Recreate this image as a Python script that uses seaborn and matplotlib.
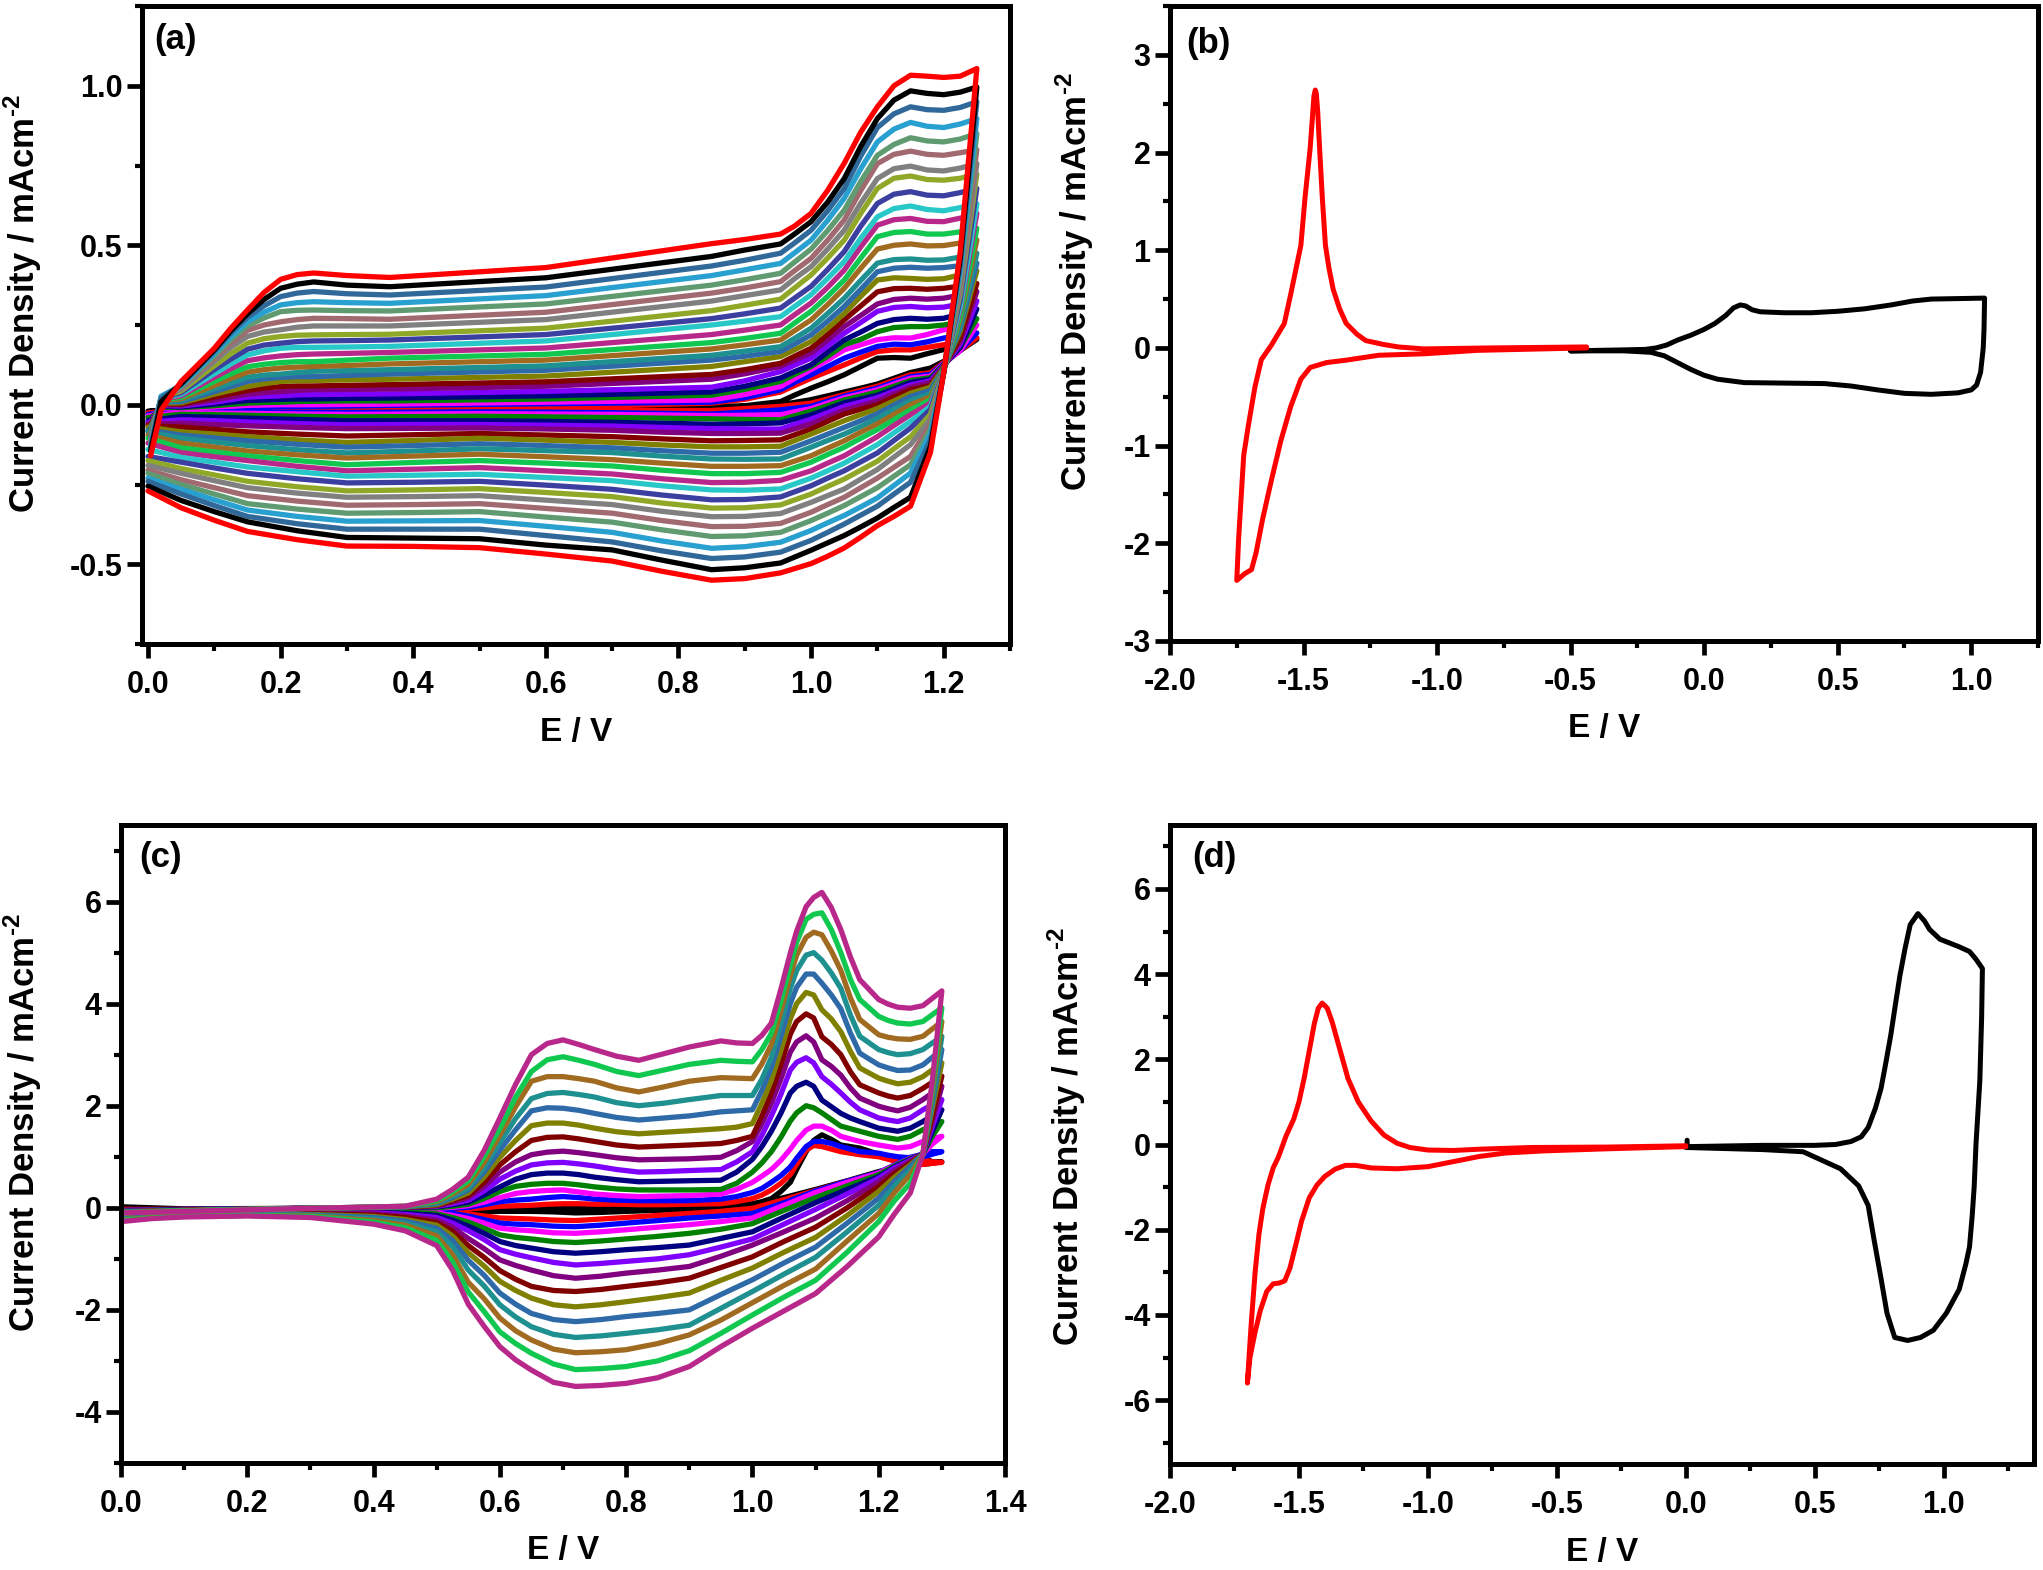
import matplotlib
matplotlib.use("Agg")
import matplotlib.pyplot as plt
import pandas as pd
import seaborn as sns
from matplotlib.ticker import MultipleLocator

W, H = 2043, 1570

cycle_colors = ["#000000", "#ff0000", "#0000ff", "#ff00ff", "#008000", "#000080", "#8000ff", "#800080",
                "#800000", "#808000", "#2f6aa8", "#1f9090", "#a06a20", "#10c850", "#b8288a", "#28c8c8",
                "#3a3fa0", "#90a828", "#808080", "#a06a70", "#609a70", "#28a0d0", "#30689a", "#000000", "#ff0000"]

# panel (a), anodic sweep: one list per potential, cycle 1 to cycle 25
a_up_e = [0.004, 0.02, 0.05, 0.10, 0.125, 0.15, 0.175, 0.20, 0.225, 0.25, 0.30, 0.365, 0.60, 0.85, 0.90, 0.954, 0.975, 1.00, 1.025, 1.05, 1.075, 1.10, 1.125, 1.15, 1.175, 1.20, 1.225, 1.25]
a_up_004 = [-.02, -.03, -.035, -.04, -.045, -.05, -.055, -.06, -.065, -.07, -.075, -.08, -.085, -.09, -.095, -.1, -.105, -.11, -.115, -.12, -.125, -.13, -.135, -.145, -.16]
a_up_020 = [-.016, -.015, -.012, -.01, -.007, -.004, -.002, 0, .003, .005, .008, .01, .013, .015, .017, .019, .02, .022, .024, .025, .026, .027, .02, .01, -.016]
a_up_050 = [-.017, -.015, -.013, -.011, -.009, -.007, -.004, -.001, .002, .006, .01, .014, .019, .023, .028, .033, .038, .043, .048, .052, .056, .06, .063, .066, .073]
a_up_100 = [-.017, -.014, -.01, -.007, -.003, .002, .008, .015, .024, .033, .041, .05, .06, .073, .086, .097, .11, .122, .136, .146, .153, .16, .167, .172, .177]
a_up_125 = [-.016, -.013, -.009, -.005, .001, .008, .016, .024, .034, .045, .057, .068, .082, .097, .113, .128, .143, .16, .18, .193, .204, .213, .225, .232, .24]
a_up_150 = [-.016, -.013, -.007, -.002, .005, .013, .024, .033, .045, .057, .073, .086, .102, .119, .138, .156, .174, .193, .214, .233, .247, .26, .274, .285, .297]
a_up_175 = [-.016, -.013, -.006, -.001, .007, .015, .026, .038, .052, .066, .081, .093, .11, .127, .147, .169, .187, .207, .228, .25, .272, .29, .31, .33, .352]
a_up_200 = [-.016, -.013, -.005, 0, .008, .017, .028, .041, .057, .073, .086, .096, .115, .132, .153, .177, .193, .214, .235, .26, .292, .313, .339, .365, .393]
a_up_225 = [-.016, -.012, -.005, 0, .01, .018, .031, .045, .059, .075, .088, .101, .118, .135, .157, .18, .198, .218, .243, .267, .296, .32, .35, .378, .408]
a_up_250 = [-.016, -.012, -.005, 0, .011, .018, .032, .047, .059, .076, .088, .105, .12, .135, .159, .18, .2, .219, .247, .271, .297, .323, .355, .385, .413]
a_up_300 = [-.016, -.012, -.004, .001, .012, .02, .033, .048, .061, .078, .092, .107, .123, .14, .161, .181, .201, .22, .247, .27, .295, .32, .348, .375, .405]
a_up_365 = [-.016, -.012, -.002, .002, .012, .021, .034, .049, .063, .08, .096, .11, .128, .146, .164, .183, .203, .221, .247, .268, .294, .318, .344, .37, .399]
a_up_600 = [-.012, -.008, .003, .008, .018, .028, .042, .058, .072, .09, .108, .122, .14, .158, .178, .2, .22, .24, .267, .29, .316, .342, .369, .398, .43]
a_up_850 = [-.006, .005, .008, .015, .03, .04, .055, .08, .095, .12, .14, .155, .175, .195, .22, .25, .27, .295, .325, .35, .375, .405, .435, .465, .505]
a_up_900 = [-.003, .017, .022, .032, .048, .058, .075, .097, .11, .135, .152, .168, .188, .208, .234, .262, .285, .312, .342, .366, .392, .423, .453, .485, .518]
a_up_954 = [.01, .04, .047, .057, .073, .084, .104, .12, .13, .151, .167, .182, .203, .224, .25, .276, .303, .331, .36, .386, .412, .443, .475, .504, .535]
a_up_975 = [.03, .06, .07, .082, .095, .104, .124, .14, .152, .172, .19, .208, .232, .256, .282, .308, .334, .366, .395, .42, .447, .476, .507, .535, .56]
a_up_1000 = [.052, .083, .094, .11, .12, .125, .146, .162, .177, .198, .219, .24, .266, .293, .319, .345, .371, .407, .433, .459, .488, .516, .547, .574, .6]
a_up_1025 = [.072, .104, .12, .14, .152, .165, .185, .203, .22, .24, .262, .286, .314, .34, .368, .396, .424, .46, .488, .516, .546, .578, .608, .635, .672]
a_up_1050 = [.094, .125, .146, .172, .188, .203, .224, .245, .266, .286, .308, .334, .365, .391, .422, .449, .48, .516, .547, .579, .61, .647, .678, .709, .757]
a_up_1075 = [.12, .147, .165, .188, .205, .228, .258, .28, .31, .34, .362, .39, .428, .46, .495, .522, .56, .6, .632, .672, .7, .74, .78, .81, .855]
a_up_1100 = [.146, .167, .183, .204, .229, .255, .293, .316, .354, .391, .417, .444, .488, .527, .563, .589, .631, .678, .709, .756, .782, .824, .869, .897, .934]
a_up_1125 = [.148, .172, .19, .21, .242, .267, .305, .33, .364, .398, .428, .455, .5, .54, .58, .615, .66, .71, .74, .785, .816, .864, .912, .955, 1.0]
a_up_1150 = [.146, .172, .188, .209, .245, .271, .308, .334, .365, .396, .431, .457, .504, .543, .584, .623, .668, .717, .748, .795, .837, .885, .934, .984, 1.033]
a_up_1175 = [.16, .18, .197, .22, .245, .268, .304, .331, .362, .393, .428, .453, .498, .535, .575, .612, .657, .706, .736, .785, .827, .873, .925, .976, 1.03]
a_up_1200 = [.173, .188, .209, .235, .25, .271, .306, .334, .365, .395, .43, .454, .499, .535, .574, .608, .655, .704, .733, .782, .824, .869, .923, .972, 1.026]
a_up_1225 = [.19, .198, .217, .24, .26, .285, .316, .344, .372, .407, .436, .463, .507, .542, .585, .618, .665, .71, .742, .79, .833, .88, .932, .98, 1.03]
a_up_1250 = [.205, .21, .225, .25, .27, .3, .325, .355, .38, .42, .444, .475, .517, .553, .6, .63, .678, .723, .756, .8, .85, .897, .95, .996, 1.054]
a_up = [a_up_004, a_up_020, a_up_050, a_up_100, a_up_125, a_up_150, a_up_175, a_up_200, a_up_225, a_up_250, a_up_300, a_up_365, a_up_600, a_up_850,
        a_up_900, a_up_954, a_up_975, a_up_1000, a_up_1025, a_up_1050, a_up_1075, a_up_1100, a_up_1125, a_up_1150, a_up_1175, a_up_1200, a_up_1225, a_up_1250]

# panel (a), cathodic sweep
a_dn_e = [1.225, 1.20, 1.18, 1.15, 1.125, 1.10, 1.075, 1.05, 1.025, 1.00, 0.954, 0.90, 0.85, 0.775, 0.70, 0.60, 0.50, 0.40, 0.30, 0.225, 0.15, 0.10, 0.05, 0.0]
a_dn_1225 = [.17, .17, .17, .17, .18, .18, .19, .2, .21, .23, .24, .25, .27, .28, .3, .31, .33, .35, .36, .38, .4, .42, .44, .46, .48]
a_dn_1200 = [.136, .133, .13, .128, .126, .124, .122, .12, .118, .116, .114, .112, .11, .108, .107, .106, .105, .104, .103, .102, .102, .101, .1, .1, .1]
a_dn_1180 = [.115, .1, .095, .09, .085, .08, .075, .07, .06, .055, .045, .035, .025, .015, .005, -.005, -.015, -.03, -.045, -.06, -.075, -.09, -.11, -.13, -.15]
a_dn_1150 = [.101, .094, .088, .083, .076, .07, .062, .055, .047, .036, .026, .013, 0, -.016, -.031, -.052, -.073, -.1, -.125, -.162, -.188, -.214, -.243, -.29, -.318]
a_dn_1125 = [.083, .076, .07, .065, .058, .05, .042, .034, .024, .012, -.001, -.015, -.03, -.047, -.065, -.088, -.112, -.138, -.164, -.196, -.224, -.253, -.28, -.322, -.35]
a_dn_1100 = [.065, .058, .052, .047, .04, .03, .022, .012, 0, -.012, -.028, -.043, -.06, -.078, -.1, -.125, -.151, -.177, -.203, -.23, -.26, -.292, -.318, -.355, -.379]
a_dn_1075 = [.052, .045, .039, .034, .027, .018, .008, -.003, -.014, -.031, -.05, -.068, -.086, -.105, -.13, -.154, -.179, -.205, -.233, -.26, -.288, -.32, -.346, -.383, -.415]
a_dn_1050 = [.04, .032, .027, .022, .015, .006, -.005, -.017, -.029, -.05, -.071, -.092, -.113, -.133, -.16, -.183, -.207, -.233, -.264, -.29, -.316, -.347, -.374, -.41, -.449]
a_dn_1025 = [.028, .018, .011, .005, -.003, -.013, -.025, -.038, -.052, -.071, -.092, -.112, -.136, -.156, -.183, -.207, -.23, -.256, -.285, -.313, -.34, -.37, -.4, -.433, -.475]
a_dn_1000 = [.016, .005, -.005, -.012, -.02, -.032, -.045, -.06, -.076, -.092, -.113, -.133, -.16, -.18, -.207, -.23, -.254, -.28, -.306, -.337, -.363, -.394, -.425, -.456, -.498]
a_dn_954 = [0, -.005, -.016, -.031, -.047, -.057, -.076, -.089, -.11, -.13, -.149, -.17, -.191, -.212, -.237, -.264, -.289, -.314, -.341, -.372, -.4, -.431, -.462, -.496, -.527]
a_dn_900 = [-.005, -.012, -.023, -.033, -.046, -.06, -.076, -.09, -.112, -.132, -.152, -.171, -.193, -.216, -.243, -.268, -.297, -.323, -.35, -.381, -.411, -.445, -.477, -.511, -.545]
a_dn_850 = [-.01, -.018, -.029, -.034, -.044, -.061, -.075, -.09, -.113, -.132, -.152, -.17, -.193, -.216, -.244, -.267, -.298, -.324, -.351, -.382, -.413, -.45, -.482, -.517, -.55]
a_dn_775 = [-.011, -.018, -.027, -.032, -.042, -.058, -.071, -.086, -.107, -.126, -.144, -.161, -.183, -.205, -.232, -.254, -.283, -.308, -.334, -.363, -.392, -.427, -.458, -.487, -.522]
a_dn_700 = [-.012, -.018, -.025, -.03, -.04, -.055, -.067, -.08, -.1, -.118, -.135, -.15, -.172, -.192, -.217, -.238, -.265, -.288, -.313, -.34, -.368, -.4, -.43, -.455, -.49]
a_dn_600 = [-.014, -.019, -.023, -.029, -.038, -.052, -.064, -.076, -.095, -.111, -.128, -.144, -.163, -.183, -.207, -.228, -.252, -.275, -.299, -.325, -.352, -.381, -.41, -.44, -.468]
a_dn_500 = [-.015, -.02, -.022, -.028, -.036, -.05, -.062, -.073, -.09, -.105, -.122, -.138, -.155, -.175, -.197, -.218, -.24, -.263, -.285, -.31, -.335, -.363, -.39, -.42, -.448]
a_dn_400 = [-.016, -.02, -.023, -.029, -.037, -.05, -.062, -.074, -.094, -.112, -.128, -.145, -.161, -.181, -.202, -.221, -.243, -.267, -.288, -.313, -.338, -.364, -.39, -.418, -.444]
a_dn_300 = [-.017, -.02, -.024, -.03, -.038, -.05, -.063, -.075, -.098, -.118, -.133, -.151, -.167, -.188, -.207, -.224, -.245, -.27, -.29, -.315, -.34, -.365, -.39, -.416, -.443]
a_dn_225 = [-.017, -.019, -.023, -.029, -.036, -.046, -.059, -.071, -.092, -.11, -.124, -.141, -.157, -.175, -.193, -.21, -.232, -.257, -.277, -.302, -.327, -.35, -.373, -.395, -.423]
a_dn_150 = [-.017, -.018, -.022, -.027, -.033, -.042, -.054, -.066, -.085, -.1, -.113, -.128, -.145, -.16, -.175, -.195, -.215, -.24, -.26, -.285, -.31, -.33, -.35, -.367, -.397]
a_dn_100 = [-.017, -.018, -.021, -.026, -.031, -.039, -.05, -.062, -.077, -.092, -.104, -.117, -.133, -.148, -.163, -.18, -.198, -.22, -.238, -.26, -.28, -.298, -.316, -.335, -.362]
a_dn_050 = [-.017, -.018, -.021, -.025, -.03, -.037, -.047, -.058, -.07, -.085, -.095, -.105, -.12, -.135, -.15, -.165, -.18, -.2, -.215, -.235, -.25, -.265, -.28, -.3, -.323]
a_dn_000 = [-.02, -.025, -.03, -.035, -.04, -.05, -.055, -.06, -.065, -.07, -.08, -.085, -.095, -.105, -.12, -.14, -.162, -.175, -.19, -.205, -.215, -.23, -.24, -.255, -.27]
a_dn = [a_dn_1225, a_dn_1200, a_dn_1180, a_dn_1150, a_dn_1125, a_dn_1100, a_dn_1075, a_dn_1050, a_dn_1025, a_dn_1000, a_dn_954, a_dn_900, a_dn_850,
        a_dn_775, a_dn_700, a_dn_600, a_dn_500, a_dn_400, a_dn_300, a_dn_225, a_dn_150, a_dn_100, a_dn_050, a_dn_000]

# panel (c), anodic sweep: cycle 1 to cycle 15
c_up_e = [0.0, 0.10, 0.30, 0.45, 0.50, 0.525, 0.55, 0.575, 0.60, 0.625, 0.65, 0.675, 0.70, 0.725, 0.75, 0.785, 0.82, 0.86, 0.90, 0.95, 0.975, 1.00, 1.015, 1.03, 1.045, 1.06, 1.07, 1.085, 1.097, 1.11, 1.125, 1.14, 1.155, 1.17, 1.20, 1.215, 1.23, 1.25, 1.27, 1.30]
c_up_000 = [.02, -.03, -.05, -.06, -.06, -.07, -.07, -.08, -.08, -.08, -.09, -.09, -.1, -.1, -.1]
c_up_010 = [-.02, -.03, -.03, -.04, -.04, -.04, -.05, -.05, -.05, -.05, -.06, -.06, -.06, -.06, -.07]
c_up_030 = [-.01, -.01, -.01, -.01, -.01, -.01, -.01, -.01, -.01, -.01, -.01, -.01, -.01, -.01, -.01]
c_up_045 = [-.03, -.02, -.01, 0, 0, .01, .01, .01, .01, .02, .02, .02, .03, .03, .03]
c_up_050 = [-.04, -.03, -.02, -.01, 0, .02, .03, .04, .05, .06, .08, .1, .12, .14, .17]
c_up_0525 = [-.05, -.03, -.01, .01, .03, .06, .08, .11, .14, .17, .2, .23, .27, .31, .36]
c_up_055 = [-.05, -.02, .01, .04, .07, .11, .15, .2, .24, .29, .35, .39, .46, .53, .6]
c_up_0575 = [-.04, 0, .06, .11, .18, .25, .33, .42, .5, .6, .7, .79, .89, 1.0, 1.12]
c_up_060 = [-.03, .03, .12, .2, .32, .41, .56, .7, .84, .99, 1.13, 1.28, 1.42, 1.56, 1.76]
c_up_0625 = [-.02, .04, .15, .28, .42, .56, .72, .9, 1.1, 1.32, 1.53, 1.75, 1.98, 2.17, 2.42]
c_up_065 = [-.02, .05, .17, .32, .46, .65, .84, 1.04, 1.32, 1.61, 1.9, 2.14, 2.48, 2.67, 3.0]
c_up_0675 = [-.01, .07, .2, .34, .48, .68, .88, 1.09, 1.38, 1.66, 1.96, 2.24, 2.57, 2.9, 3.22]
c_up_070 = [-.01, .08, .22, .35, .48, .68, .89, 1.11, 1.39, 1.66, 1.95, 2.26, 2.57, 2.96, 3.29]
c_up_0725 = [0, .08, .2, .31, .45, .65, .86, 1.08, 1.35, 1.62, 1.91, 2.22, 2.53, 2.89, 3.2]
c_up_075 = [0, .07, .17, .27, .41, .6, .82, 1.04, 1.3, 1.56, 1.85, 2.17, 2.48, 2.81, 3.1]
c_up_0785 = [0, .07, .15, .24, .37, .55, .75, .98, 1.23, 1.49, 1.77, 2.06, 2.35, 2.67, 2.97]
c_up_082 = [0, .06, .14, .22, .35, .51, .7, .94, 1.19, 1.45, 1.72, 2.0, 2.27, 2.59, 2.89]
c_up_086 = [0, .06, .14, .23, .35, .52, .71, .95, 1.21, 1.48, 1.76, 2.05, 2.37, 2.7, 3.02]
c_up_090 = [.01, .07, .14, .24, .35, .53, .73, .96, 1.23, 1.51, 1.8, 2.12, 2.48, 2.81, 3.15]
c_up_095 = [.03, .08, .17, .27, .36, .54, .75, .99, 1.26, 1.55, 1.88, 2.2, 2.55, 2.89, 3.27]
c_up_0975 = [.05, .12, .22, .36, .48, .7, .9, 1.12, 1.32, 1.58, 1.9, 2.2, 2.54, 2.87, 3.23]
c_up_100 = [.08, .18, .3, .5, .7, .95, 1.1, 1.3, 1.4, 1.65, 1.92, 2.2, 2.53, 2.86, 3.22]
c_up_1015 = [.12, .25, .38, .62, .88, 1.2, 1.42, 1.65, 1.8, 2.05, 2.3, 2.52, 2.82, 3.1, 3.38]
c_up_103 = [.18, .35, .5, .75, 1.1, 1.5, 1.8, 2.05, 2.25, 2.5, 2.75, 2.95, 3.2, 3.42, 3.62]
c_up_1045 = [.32, .48, .63, .93, 1.38, 1.85, 2.22, 2.52, 2.8, 3.08, 3.35, 3.62, 3.85, 4.05, 4.28]
c_up_106 = [.5, .65, .8, 1.15, 1.7, 2.25, 2.7, 3.05, 3.4, 3.7, 4.0, 4.3, 4.55, 4.75, 4.99]
c_up_107 = [.75, .85, .97, 1.32, 1.86, 2.38, 2.85, 3.25, 3.65, 4.0, 4.32, 4.65, 4.95, 5.2, 5.42]
c_up_1085 = [1.1, 1.13, 1.2, 1.52, 2.0, 2.46, 2.94, 3.37, 3.8, 4.22, 4.58, 4.95, 5.3, 5.65, 5.9]
c_up_1097 = [1.32, 1.22, 1.3, 1.6, 1.96, 2.38, 2.84, 3.25, 3.72, 4.17, 4.58, 5.0, 5.4, 5.75, 6.08]
c_up_111 = [1.43, 1.2, 1.3, 1.6, 1.86, 2.11, 2.57, 2.9, 3.35, 3.88, 4.4, 4.85, 5.35, 5.78, 6.18]
c_up_1125 = [1.34, 1.15, 1.26, 1.52, 1.73, 1.98, 2.42, 2.77, 3.2, 3.7, 4.17, 4.6, 5.03, 5.45, 5.88]
c_up_114 = [1.23, 1.1, 1.2, 1.4, 1.6, 1.85, 2.25, 2.6, 3.0, 3.45, 3.9, 4.3, 4.65, 5.0, 5.45]
c_up_1155 = [1.2, 1.07, 1.15, 1.35, 1.55, 1.76, 2.07, 2.35, 2.67, 3.07, 3.43, 3.78, 4.12, 4.48, 4.92]
c_up_117 = [1.17, 1.04, 1.1, 1.3, 1.5, 1.69, 1.92, 2.15, 2.41, 2.74, 3.03, 3.36, 3.69, 4.08, 4.47]
c_up_120 = [1.05, 1.0, 1.07, 1.23, 1.4, 1.56, 1.76, 1.99, 2.25, 2.54, 2.8, 3.1, 3.39, 3.75, 4.08]
c_up_1215 = [1.0, .95, 1.03, 1.2, 1.37, 1.53, 1.72, 1.94, 2.19, 2.48, 2.74, 3.04, 3.34, 3.67, 3.99]
c_up_123 = [.95, .9, 1.0, 1.17, 1.34, 1.5, 1.69, 1.9, 2.15, 2.43, 2.69, 3.0, 3.31, 3.62, 3.93]
c_up_125 = [.9, .86, .98, 1.2, 1.4, 1.56, 1.76, 1.97, 2.2, 2.46, 2.7, 3.02, 3.3, 3.6, 3.91]
c_up_127 = [.85, .85, 1.0, 1.3, 1.53, 1.69, 1.92, 2.12, 2.34, 2.57, 2.8, 3.1, 3.36, 3.65, 3.96]
c_up_130 = [.9, .89, 1.1, 1.4, 1.69, 1.92, 2.12, 2.38, 2.58, 2.84, 3.1, 3.36, 3.65, 3.92, 4.25]
c_up = [c_up_000, c_up_010, c_up_030, c_up_045, c_up_050, c_up_0525, c_up_055, c_up_0575, c_up_060, c_up_0625, c_up_065, c_up_0675, c_up_070, c_up_0725,
        c_up_075, c_up_0785, c_up_082, c_up_086, c_up_090, c_up_095, c_up_0975, c_up_100, c_up_1015, c_up_103, c_up_1045, c_up_106, c_up_107, c_up_1085,
        c_up_1097, c_up_111, c_up_1125, c_up_114, c_up_1155, c_up_117, c_up_120, c_up_1215, c_up_123, c_up_125, c_up_127, c_up_130]

# panel (c), cathodic sweep
c_dn_e = [1.285, 1.27, 1.25, 1.225, 1.20, 1.15, 1.10, 1.05, 1.00, 0.95, 0.90, 0.85, 0.80, 0.76, 0.72, 0.685, 0.65, 0.625, 0.60, 0.575, 0.55, 0.525, 0.50, 0.45, 0.40, 0.30, 0.20, 0.10, 0.05, 0.0]
c_dn_1285 = [.9, .9, 1.1, 1.25, 1.4, 1.5, 1.6, 1.7, 1.8, 1.95, 2.05, 2.15, 2.3, 2.4, 2.5]
c_dn_127 = [1.0, .95, 1.05, 1.05, 1.05, 1.05, 1.05, 1.05, 1.05, 1.05, 1.05, 1.05, 1.05, 1.05, 1.05]
c_dn_125 = [.85, .85, .99, .97, .96, .95, .93, .91, .875, .84, .81, .74, .65, .48, .29]
c_dn_1225 = [.78, .76, .84, .83, .82, .8, .78, .73, .67, .6, .52, .43, .3, .14, -.12]
c_dn_120 = [.71, .69, .69, .68, .65, .61, .58, .51, .42, .32, .19, .05, -.11, -.27, -.57]
c_dn_115 = [.53, .52, .52, .5, .43, .36, .27, .14, 0, -.15, -.3, -.47, -.65, -.87, -1.15]
c_dn_110 = [.36, .34, .33, .3, .2, .1, -.03, -.2, -.38, -.58, -.77, -.97, -1.2, -1.42, -1.68]
c_dn_105 = [.2, .16, .1, .05, -.05, -.18, -.32, -.47, -.66, -.87, -1.08, -1.3, -1.52, -1.75, -2.02]
c_dn_100 = [.06, -.01, -.11, -.2, -.31, -.47, -.61, -.73, -.96, -1.18, -1.41, -1.64, -1.86, -2.1, -2.36]
c_dn_095 = [-.01, -.07, -.16, -.27, -.42, -.6, -.77, -.95, -1.17, -1.42, -1.7, -1.97, -2.2, -2.46, -2.72]
c_dn_090 = [-.03, -.11, -.2, -.33, -.5, -.73, -.92, -1.15, -1.38, -1.67, -2.0, -2.3, -2.49, -2.8, -3.11]
c_dn_085 = [-.05, -.15, -.25, -.38, -.56, -.78, -1.0, -1.22, -1.47, -1.76, -2.07, -2.39, -2.66, -3.0, -3.33]
c_dn_080 = [-.07, -.19, -.3, -.43, -.61, -.82, -1.05, -1.28, -1.54, -1.84, -2.13, -2.46, -2.78, -3.11, -3.44]
c_dn_076 = [-.09, -.22, -.34, -.47, -.65, -.86, -1.09, -1.34, -1.6, -1.9, -2.19, -2.51, -2.82, -3.15, -3.48]
c_dn_072 = [-.1, -.25, -.37, -.5, -.68, -.89, -1.12, -1.38, -1.64, -1.94, -2.23, -2.54, -2.84, -3.17, -3.5]
c_dn_0685 = [-.08, -.24, -.36, -.49, -.66, -.86, -1.07, -1.33, -1.62, -1.9, -2.19, -2.48, -2.77, -3.06, -3.42]
c_dn_065 = [-.07, -.22, -.33, -.45, -.61, -.79, -.98, -1.22, -1.54, -1.77, -2.07, -2.33, -2.59, -2.85, -3.18]
c_dn_0625 = [-.07, -.21, -.32, -.43, -.58, -.74, -.91, -1.13, -1.4, -1.62, -1.89, -2.14, -2.41, -2.66, -2.98]
c_dn_060 = [-.07, -.2, -.3, -.4, -.53, -.66, -.82, -1.02, -1.23, -1.44, -1.67, -1.9, -2.16, -2.43, -2.72]
c_dn_0575 = [-.08, -.16, -.23, -.3, -.4, -.5, -.62, -.8, -.97, -1.14, -1.32, -1.53, -1.78, -2.03, -2.32]
c_dn_055 = [-.09, -.12, -.16, -.21, -.28, -.36, -.45, -.6, -.74, -.88, -1.03, -1.22, -1.46, -1.65, -1.89]
c_dn_0525 = [-.06, -.08, -.11, -.15, -.19, -.24, -.3, -.38, -.46, -.55, -.64, -.76, -.92, -1.06, -1.22]
c_dn_050 = [-.05, -.06, -.08, -.1, -.12, -.15, -.19, -.24, -.29, -.34, -.4, -.47, -.55, -.64, -.74]
c_dn_045 = [-.04, -.05, -.06, -.08, -.09, -.11, -.13, -.16, -.19, -.23, -.26, -.3, -.34, -.39, -.45]
c_dn_040 = [-.04, -.05, -.06, -.07, -.08, -.09, -.1, -.12, -.14, -.17, -.19, -.22, -.25, -.28, -.32]
c_dn_030 = [-.06, -.07, -.08, -.08, -.09, -.09, -.1, -.11, -.12, -.13, -.14, -.15, -.16, -.17, -.19]
c_dn_020 = [-.08, -.09, -.1, -.1, -.11, -.11, -.12, -.12, -.13, -.13, -.14, -.14, -.15, -.15, -.16]
c_dn_010 = [-.08, -.09, -.1, -.1, -.11, -.11, -.12, -.13, -.14, -.14, -.15, -.16, -.16, -.17, -.18]
c_dn_005 = [-.08, -.09, -.1, -.1, -.11, -.12, -.13, -.14, -.15, -.16, -.17, -.18, -.19, -.2, -.21]
c_dn_000 = [-.07, -.08, -.09, -.1, -.11, -.12, -.14, -.16, -.18, -.2, -.22, -.23, -.24, -.25, -.27]
c_dn = [c_dn_1285, c_dn_127, c_dn_125, c_dn_1225, c_dn_120, c_dn_115, c_dn_110, c_dn_105, c_dn_100, c_dn_095, c_dn_090, c_dn_085, c_dn_080, c_dn_076, c_dn_072,
        c_dn_0685, c_dn_065, c_dn_0625, c_dn_060, c_dn_0575, c_dn_055, c_dn_0525, c_dn_050, c_dn_045, c_dn_040, c_dn_030, c_dn_020, c_dn_010, c_dn_005, c_dn_000]

# panel (b)
b_red_e = [-.44, -.8, -1.05, -1.145, -1.2, -1.267, -1.3, -1.34, -1.365, -1.389, -1.405, -1.418, -1.43, -1.44, -1.447, -1.452, -1.456, -1.461, -1.467, -1.475, -1.494, -1.51, -1.548, -1.572, -1.62, -1.658, -1.682, -1.707, -1.724, -1.743, -1.75,
           -1.72, -1.695, -1.678, -1.653, -1.62, -1.585, -1.548, -1.51, -1.475, -1.414, -1.34, -1.218, -1.047, -.85, -.44]
b_red_j = [.01, 0, -.01, .01, .035, .075, .14, .25, .4, .6, .82, 1.05, 1.55, 2.05, 2.42, 2.6, 2.64, 2.58, 2.35, 2.05, 1.55, 1.05, .55, .25, .03, -.12, -.4, -.8, -1.1, -1.95, -2.38,
           -2.31, -2.27, -2.1, -1.75, -1.35, -.95, -.6, -.32, -.2, -.15, -.125, -.075, -.06, -.025, 0]
b_blk_e = [-.5, -.3, -.22, -.18, -.14, -.1, -.05, 0, .04, .08, .11, .135, .155, .18, .21, .3, .4, .5, .6, .7, .78, .85, .95, 1.05, 1.048, 1.045, 1.035, 1.02, 1.0, .95, .85, .75, .65, .55, .45, .3, .15, .05, 0, -.05, -.1, -.15, -.2, -.3, -.5]
b_blk_j = [-.03, -.02, -.015, 0, .03, .08, .13, .19, .25, .33, .41, .44, .43, .39, .37, .36, .36, .375, .4, .44, .48, .5, .505, .51, .2, 0, -.25, -.38, -.43, -.46, -.475, -.465, -.43, -.39, -.365, -.36, -.355, -.32, -.28, -.22, -.15, -.08, -.045, -.03, -.03]

# panel (d)
d_red_e = [0, -.3, -.6, -.7, -.8, -.9, -1.0, -1.07, -1.12, -1.17, -1.22, -1.27, -1.31, -1.34, -1.37, -1.39, -1.41, -1.425, -1.44, -1.46, -1.48, -1.5, -1.52, -1.55, -1.58, -1.6, -1.62, -1.64, -1.655, -1.67, -1.685, -1.7,
           -1.69, -1.67, -1.65, -1.625, -1.6, -1.575, -1.555, -1.535, -1.51, -1.49, -1.46, -1.43, -1.4, -1.36, -1.32, -1.28, -1.22, -1.12, -1.0, -.9, -.8, -.7, -.55, -.3, 0]
d_red_j = [-.03, -.06, -.07, -.09, -.11, -.14, -.13, -.07, .03, .22, .55, 1.0, 1.55, 2.2, 2.85, 3.2, 3.32, 3.2, 2.85, 2.2, 1.55, 1.0, .6, .2, -.3, -.55, -.95, -1.5, -2.1, -3.0, -4.2, -5.6,
           -5.0, -4.4, -3.9, -3.45, -3.27, -3.25, -3.2, -2.9, -2.3, -1.8, -1.25, -.95, -.75, -.58, -.49, -.49, -.55, -.57, -.52, -.4, -.28, -.2, -.15, -.1, -.05]
d_blk_e = [.005, .005, .3, .5, .58, .64, .68, .707, .735, .757, .775, .795, .813, .83, .85, .87, .9, .925, .945, .985, 1.06, 1.1, 1.125, 1.15, 1.147, 1.14, 1.125, 1.118, 1.11, 1.1, 1.086, 1.06, 1.01, .96, .91, .86, .81, .78, .757, .73, .707, .67, .6, .455, .3, 0]
d_blk_j = [.1, -.05, -.02, -.02, 0, .07, .18, .4, .85, 1.32, 1.9, 2.58, 3.3, 3.96, 4.6, 5.16, 5.42, 5.25, 5.05, 4.82, 4.64, 4.53, 4.35, 4.13, 3.0, 1.5, 0, -1.0, -1.7, -2.4, -2.8, -3.4, -3.96, -4.36, -4.53, -4.6, -4.53, -3.96, -3.15, -2.24, -1.43, -.97, -.57, -.17, -.12, -.07]

sns.set_theme(style="ticks")
plt.rcParams["font.family"] = ["Liberation Sans", "DejaVu Sans"]
plt.rcParams["font.weight"] = "bold"
plt.rcParams["mathtext.fontset"] = "custom"
plt.rcParams["mathtext.bf"] = "Liberation Sans:bold"
plt.rcParams["mathtext.rm"] = "Liberation Sans:bold"
plt.rcParams["axes.edgecolor"] = "black"
plt.rcParams["text.color"] = "black"
plt.rcParams["xtick.color"] = "black"
plt.rcParams["ytick.color"] = "black"


def cycles_frame(up_e, up, dn_e, dn):
    rows = []
    for e, vals in zip(up_e, up):
        rows += [(f"c{i:02d}", e, v) for i, v in enumerate(vals)]
    for e, vals in zip(dn_e, dn):
        rows += [(f"c{i:02d}", e, v) for i, v in enumerate(vals)]
    return pd.DataFrame(rows, columns=["cycle", "E", "j"]).sort_values("cycle", kind="stable")


def two_curves(blk_e, blk_j, red_e, red_j):
    return pd.concat([pd.DataFrame({"cycle": "black", "E": blk_e, "j": blk_j}),
                      pd.DataFrame({"cycle": "red", "E": red_e, "j": red_j})])


def make_axes(fig, box, xlim, ylim, xmaj, ymaj, ytick_fmt="{:g}"):
    left, top, right, bottom = box
    ax = fig.add_axes([left / W, 1 - bottom / H, (right - left) / W, (bottom - top) / H])
    ax.set_xlim(xlim)
    ax.set_ylim(ylim)
    ax.xaxis.set_major_locator(MultipleLocator(xmaj))
    ax.xaxis.set_minor_locator(MultipleLocator(xmaj / 2))
    ax.yaxis.set_major_locator(MultipleLocator(ymaj))
    ax.yaxis.set_minor_locator(MultipleLocator(ymaj / 2))
    ax.tick_params(axis="x", which="major", length=10, width=3.4, labelsize=22, pad=9)
    ax.tick_params(axis="y", which="major", length=11, width=3.4, labelsize=22, pad=3)
    ax.tick_params(which="minor", length=5, width=3)
    for sp in ax.spines.values():
        sp.set_linewidth(3.6)
    ax.xaxis.set_major_formatter(lambda v, p: "{:.1f}".format(round(v, 6)))
    ax.yaxis.set_major_formatter(lambda v, p: ytick_fmt.format(round(v, 6)))
    return ax


fig = plt.figure(figsize=(W / 100, H / 100), dpi=100)

ax_a = make_axes(fig, (142, 6, 1010, 644), (-0.009, 1.30), (-0.75, 1.25), 0.2, 0.5, ytick_fmt="{:.1f}")
frame_a = cycles_frame(a_up_e, a_up, a_dn_e, a_dn)
pal_a = {f"c{i:02d}": c for i, c in enumerate(cycle_colors)}
sns.lineplot(data=frame_a, x="E", y="j", hue="cycle", hue_order=list(pal_a), palette=pal_a, sort=False,
             estimator=None, errorbar=None, legend=False, linewidth=3.8, ax=ax_a)

ax_b = make_axes(fig, (1170, 6, 2038, 641), (-2.0, 1.25), (-3, 3.5), 0.5, 1)
sns.lineplot(data=two_curves(b_blk_e, b_blk_j, b_red_e, b_red_j), x="E", y="j", hue="cycle",
             palette={"black": "#000000", "red": "#ff0000"}, sort=False, estimator=None, errorbar=None,
             legend=False, linewidth=3.6, ax=ax_b)

ax_c = make_axes(fig, (121, 825, 1005, 1463), (0, 1.4), (-5, 7.5), 0.2, 2)
frame_c = cycles_frame(c_up_e, c_up, c_dn_e, c_dn)
pal_c = {f"c{i:02d}": c for i, c in enumerate(cycle_colors[:15])}
sns.lineplot(data=frame_c, x="E", y="j", hue="cycle", hue_order=list(pal_c), palette=pal_c, sort=False,
             estimator=None, errorbar=None, legend=False, linewidth=3.8, ax=ax_c)

ax_d = make_axes(fig, (1170, 825, 2034, 1464), (-2.0, 1.35), (-7.5, 7.5), 0.5, 2)
sns.lineplot(data=two_curves(d_blk_e, d_blk_j, d_red_e, d_red_j), x="E", y="j", hue="cycle",
             palette={"black": "#000000", "red": "#ff0000"}, sort=False, estimator=None, errorbar=None,
             legend=False, linewidth=3.6, ax=ax_d)

for ax in (ax_a, ax_b, ax_c, ax_d):
    ax.set_xlabel("")
    ax.set_ylabel("")

for lab, x, y in [("(a)", 176, 40), ("(b)", 1208, 43), ("(c)", 161, 858), ("(d)", 1214, 857)]:
    fig.text(x / W, 1 - y / H, lab, fontsize=25, fontweight="bold", ha="center", va="center")

ylab = "Current Density / mAcm$^{\\text{-}\\mathbf{2}}$"
for x, y in [(23, 304), (1075, 282), (23, 1123), (1067, 1137)]:
    fig.text(x / W, 1 - y / H, ylab, fontsize=25, fontweight="bold", rotation=90, ha="center", va="center")
for x, y in [(576, 733), (1604, 729), (563, 1550), (1602, 1552)]:
    fig.text(x / W, 1 - y / H, "E / V", fontsize=24, fontweight="bold", ha="center", va="center")

fig.savefig("out.png", dpi=100)
